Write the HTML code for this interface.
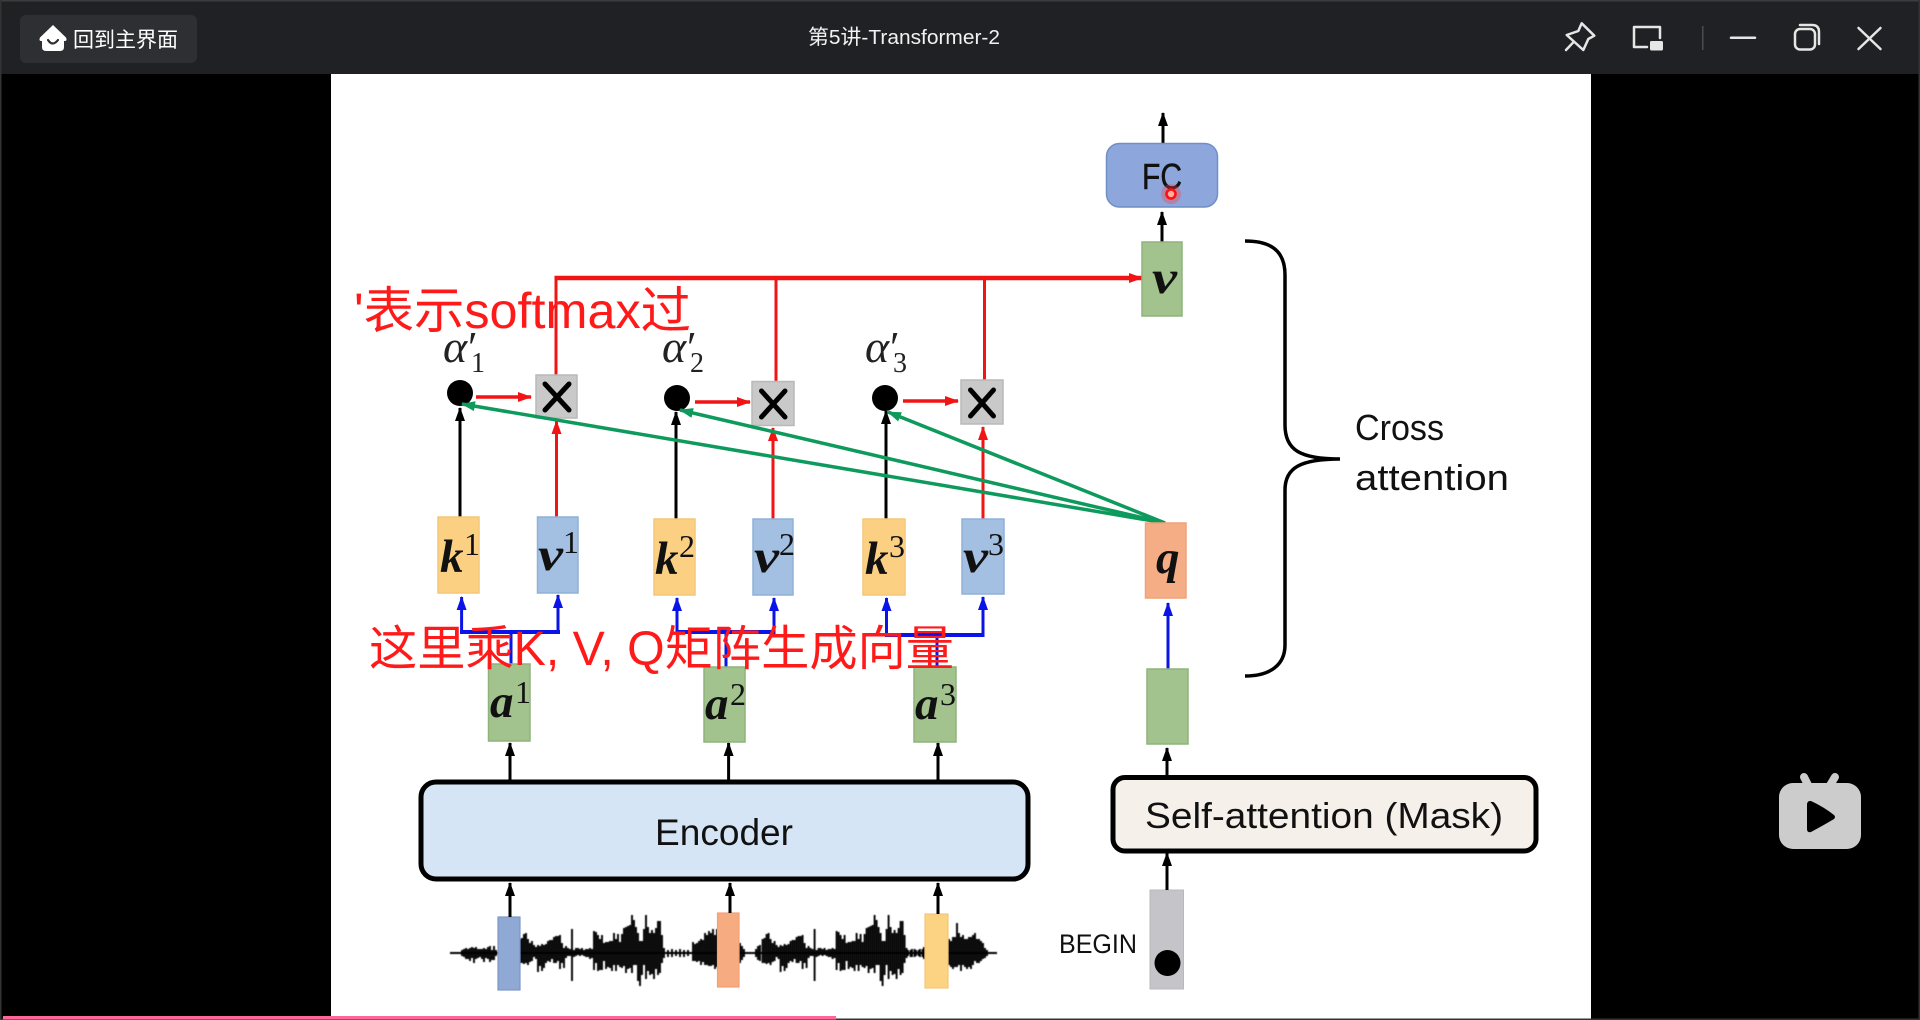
<!DOCTYPE html>
<html><head><meta charset="utf-8"><title>第5讲-Transformer-2</title>
<style>
html,body{margin:0;padding:0;background:#000;width:1920px;height:1020px;overflow:hidden}
svg{display:block}
.sans{font-family:"Liberation Sans","Noto Sans CJK SC",sans-serif}
.m{font-family:"Liberation Sans",sans-serif;fill:#111}
.b{font-family:"Liberation Serif",serif;font-style:italic;font-weight:bold;font-size:47px;fill:#111}
.s{font-family:"Liberation Serif",serif;font-size:32px;fill:#111}
.al{font-family:"Liberation Serif",serif;font-style:italic;font-size:46px;fill:#222}
.as{font-family:"Liberation Serif",serif;font-size:28px;fill:#222}
.pr{font-family:"Liberation Serif",serif;font-size:44px;fill:#222}
.y{fill:#fbd083;stroke:#f4c778;stroke-width:1.5}
.bl{fill:#a3bfe2;stroke:#8fb0d8;stroke-width:1.5}
.g{fill:#a2c38d;stroke:#8fb37c;stroke-width:1.5}
.o{fill:#f5ad85;stroke:#f0a27a;stroke-width:1.5}
.x{fill:#c9c9c9;stroke:#b9b9b9;stroke-width:1.5}
</style></head>
<body>
<svg xmlns="http://www.w3.org/2000/svg" width="1920" height="1020" viewBox="0 0 1920 1020">
<defs>
<marker id="ak" markerUnits="userSpaceOnUse" markerWidth="16" markerHeight="12" refX="13" refY="5" orient="auto"><path d="M0 0L14 5L0 10z" fill="#000"/></marker>
<marker id="ar" markerUnits="userSpaceOnUse" markerWidth="16" markerHeight="12" refX="13" refY="5" orient="auto"><path d="M0 0L14 5L0 10z" fill="#f01414"/></marker>
<marker id="ab" markerUnits="userSpaceOnUse" markerWidth="16" markerHeight="12" refX="13" refY="5" orient="auto"><path d="M0 0L14 5L0 10z" fill="#0a14e6"/></marker>
<marker id="ag" markerUnits="userSpaceOnUse" markerWidth="16" markerHeight="12" refX="13" refY="5" orient="auto"><path d="M0 0L14 5L0 10z" fill="#0e9a5c"/></marker>
</defs>

<rect width="1920" height="1020" fill="#000"/>
<rect x="331" y="74" width="1260" height="946" fill="#fff"/>

<!-- title bar -->
<rect width="1920" height="74" fill="#202124"/>
<rect x="0" y="0" width="1920" height="1.5" fill="#3c3c3c"/>
<rect x="0" y="0" width="1.5" height="1020" fill="#333"/>
<rect x="1918.5" y="0" width="1.5" height="1020" fill="#333"/>
<rect x="20" y="15" width="177" height="48" rx="6" fill="#2e2f33"/>
<path d="M53 25L66 37.5Q67.5 41 65 41H64V47Q64 51 60 51H46Q42 51 42 47V41H41Q38.5 41 40 37.5Z" fill="#fff"/>
<path d="M48 40Q52.5 47 58 40" fill="none" stroke="#2e2f33" stroke-width="2.2" stroke-linecap="round"/>
<text x="73" y="47" class="sans" font-size="21" fill="#fff">回到主界面</text>
<text x="808" y="44" class="sans" font-size="20.5" fill="#f2f2f2" textLength="192" lengthAdjust="spacingAndGlyphs">第5讲-Transformer-2</text>
<g fill="none" stroke="#e6e6e6" stroke-width="2.5" stroke-linejoin="round" stroke-linecap="round">
<path d="M1581.7 23.3L1594.3 35.7L1588.3 39L1583.3 50L1566.7 35L1578.3 31Z"/>
<path d="M1573.3 42.3L1566 50"/>
<path d="M1660 38V27H1634V47H1647"/>
<path d="M1731 37.7H1755"/>
<rect x="1795" y="29" width="20" height="20.5" rx="5"/>
<path d="M1800 25H1812Q1819 25 1819 32V44"/>
<path d="M1858.5 28L1880.5 49M1880.5 28L1858.5 49"/>
</g>
<rect x="1650" y="41" width="13" height="9.5" rx="1.5" fill="#e6e6e6"/>
<rect x="1702" y="26" width="1.5" height="24" fill="#4a4b4f"/>

<!-- waveform -->
<g fill="none" stroke="#000" stroke-width="1.9" style="filter:blur(.4px)">
<path d="M450 953H997" stroke-width="2"/>
<path id="w1" d="M462 953v-3 6M464 953v-4 8M466 953v-5 11M468 953v-4 10M470 953v-5 13M472 953v-6 11M474 953v-5 15M476 953v-6 12M478 953v-4 9M480 953v-4 8M482 953v-4 10M484 953v-5 14M486 953v-4 9M488 953v-6 12M490 953v-7 16M492 953v-3 10M494 953v-7 14M496 953v-3 6"/>
<path id="w2" d="M520 953v-14 24M522 953v-15 25M524 953v-19 30M526 953v-20 30M528 953v-14 26M530 953v-10 19M532 953v-12 20M534 953v-8 12M536 953v-6 12M538 953v-8 27M540 953v-7 20M542 953v-9 27M544 953v-8 23M546 953v-9 19M548 953v-12 20M550 953v-13 22M552 953v-13 19M554 953v-16 26M556 953v-17 27M558 953v-17 25M560 953v-18 34M562 953v-10 20M564 953v-5 20M566 953v-7 12M568 953v-5 8M570 953v-4 7M572 953v-24 52M574 953v-3 7M576 953v-5 8M578 953v-5 7M580 953v-4 7M582 953v-5 7M584 953v-3 6M586 953v-4 8M588 953v-4 8M590 953v-5 11M592 953v-4 9M594 953v-22 39M596 953v-21 31M598 953v-18 36M600 953v-14 31M602 953v-18 35M604 953v-10 18M606 953v-11 27M608 953v-11 25M610 953v-12 27M612 953v-12 30M614 953v-20 32M616 953v-14 32M618 953v-19 31M620 953v-11 25M622 953v-19 34M624 953v-25 38M626 953v-26 46M628 953v-27 43M630 953v-28 43M632 953v-38 58M634 953v-33 45M636 953v-26 38M638 953v-20 48M640 953v-12 45M642 953v-12 34M644 953v-24 36M646 953v-38 64M648 953v-26 44M650 953v-20 42M652 953v-23 44M654 953v-20 46M656 953v-25 41M658 953v-32 54M660 953v-32 52M662 953v-18 28M664 953v-5 10M668 953v-3 7M672 953v-4 8M676 953v-3 6M680 953v-4 8M684 953v-3 7M688 953v-3 6"/>
<path d="M693 953v-11 19M695 953v-9 17M697 953v-10 19M699 953v-12 20M701 953v-14 26M703 953v-13 22M705 953v-20 32M707 953v-18 30M709 953v-22 35M711 953v-20 33M713 953v-24 36M715 953v-18 34M717 953v-24 38"/>
<path d="M740 953v-10 20M742 953v-7 14M744 953v-4 8"/>
<path d="M756 953v-4 8M758 953v-7 14M760 953v-8 16"/>
<use href="#w2" transform="translate(242.6 0)"/>
<path d="M908 953v-3 6M912 953v-4 8M916 953v-3 6M920 953v-4 8M924 953v-6 12"/>
<path d="M949 953v-14 26M951 953v-12 26M953 953v-16 32M955 953v-16 30M957 953v-30 44M959 953v-20 32M961 953v-16 34M963 953v-18 30M965 953v-14 28M967 953v-14 30M969 953v-16 30M971 953v-16 32M973 953v-18 30M975 953v-20 28M977 953v-14 24M979 953v-14 24M981 953v-12 20M983 953v-10 16M985 953v-5 10M987 953v-3 6"/>
</g>

<!-- input blocks -->
<rect x="498" y="917" width="22" height="73" fill="#8fa8d4" stroke="#7d98c8" stroke-width="1.2"/>
<rect x="717.5" y="913" width="21.5" height="74" fill="#f6ac80" stroke="#f2a074" stroke-width="1.2"/>
<rect x="925" y="914" width="23" height="74" fill="#fbd383" stroke="#f4c778" stroke-width="1.2"/>
<rect x="1150" y="890" width="33.5" height="99" fill="#c5c5c9" stroke="#b9b9bd" stroke-width="1"/>
<circle cx="1167.5" cy="963" r="13" fill="#000"/>

<!-- encoder / decoder boxes -->
<rect x="421" y="782" width="607" height="97" rx="15" fill="#d5e5f5" stroke="#000" stroke-width="5"/>
<text x="655" y="845" class="m" font-size="37" textLength="138" lengthAdjust="spacingAndGlyphs">Encoder</text>
<rect x="1113" y="777.5" width="423" height="73.5" rx="12" fill="#f6f0ea" stroke="#000" stroke-width="5"/>
<text x="1145" y="828" class="m" font-size="36" textLength="358" lengthAdjust="spacingAndGlyphs">Self-attention (Mask)</text>
<text x="1059" y="953" class="m" font-size="27" textLength="78" lengthAdjust="spacingAndGlyphs">BEGIN</text>

<!-- black arrows -->
<g fill="none" stroke="#000" stroke-width="3">
<path d="M510 782V743" marker-end="url(#ak)"/>
<path d="M728.6 782V743" marker-end="url(#ak)"/>
<path d="M938 782V743" marker-end="url(#ak)"/>
<path d="M510 917V883" marker-end="url(#ak)"/>
<path d="M730 913V883" marker-end="url(#ak)"/>
<path d="M938 914V883" marker-end="url(#ak)"/>
<path d="M1167 776V748" marker-end="url(#ak)"/>
<path d="M1167 890V853" marker-end="url(#ak)"/>
<path d="M1163 143V113" marker-end="url(#ak)"/>
<path d="M1162 242V212" marker-end="url(#ak)"/>
<path d="M460 517V408" marker-end="url(#ak)"/>
<path d="M676 519V412" marker-end="url(#ak)"/>
<path d="M886 519V411" marker-end="url(#ak)"/>
</g>

<!-- red lines -->
<g fill="none" stroke="#f01414" stroke-width="3">
<path d="M556 375V278" />
<path d="M776 382V278"/>
<path d="M984.5 380V278"/>
<path d="M554.5 278H1142" stroke-width="4.5" marker-end="url(#ar)"/>
<path d="M476 397H531" stroke-width="3.5" marker-end="url(#ar)"/>
<path d="M695 402H750" stroke-width="3.5" marker-end="url(#ar)"/>
<path d="M903 401H958" stroke-width="3.5" marker-end="url(#ar)"/>
<path d="M556.5 517V421" marker-end="url(#ar)"/>
<path d="M773 519V428" marker-end="url(#ar)"/>
<path d="M983 519V427" marker-end="url(#ar)"/>
</g>

<!-- X boxes -->
<rect x="536" y="375" width="41" height="43" class="x"/>
<rect x="752" y="381.5" width="42" height="44" class="x"/>
<rect x="961" y="380" width="42" height="44" class="x"/>
<g stroke="#000" stroke-width="5" stroke-linecap="round">
<path d="M545 384L569 410M569 384L545 410"/>
<path d="M761.5 391L785 417M785 391L761.5 417"/>
<path d="M970.5 390L993.5 416M993.5 390L970.5 416"/>
</g>

<!-- alpha dots -->
<circle cx="460" cy="393" r="13" fill="#000"/>
<circle cx="677" cy="398" r="13" fill="#000"/>
<circle cx="885" cy="398" r="13" fill="#000"/>

<!-- alpha labels -->
<text x="443" y="362" class="al">α</text><text x="468" y="362" class="pr">′</text><text x="471" y="372" class="as">1</text>
<text x="662" y="362" class="al">α</text><text x="687" y="362" class="pr">′</text><text x="690" y="372" class="as">2</text>
<text x="865" y="362" class="al">α</text><text x="890" y="362" class="pr">′</text><text x="893" y="372" class="as">3</text>

<!-- green lines -->
<g fill="none" stroke="#0e9a5c" stroke-width="3.5">
<path d="M1165 523L462 404" marker-end="url(#ag)"/>
<path d="M1165 523L680 410" marker-end="url(#ag)"/>
<path d="M1165 523L888 412" marker-end="url(#ag)"/>
</g>

<!-- blue lines -->
<g fill="none" stroke="#0a14e6" stroke-width="3">
<path d="M511 664V632"/>
<path d="M726 667V632"/>
<path d="M937 667V635"/>
<path d="M460 632H560" stroke-width="4"/>
<path d="M675.5 632H775.5" stroke-width="4"/>
<path d="M885 635H984.5" stroke-width="4"/>
<path d="M461.6 632V597" marker-end="url(#ab)"/>
<path d="M558 632V595" marker-end="url(#ab)"/>
<path d="M677 632V598" marker-end="url(#ab)"/>
<path d="M774 632V598" marker-end="url(#ab)"/>
<path d="M886.5 635V598" marker-end="url(#ab)"/>
<path d="M983 635V597" marker-end="url(#ab)"/>
<path d="M1168 669V603" marker-end="url(#ab)"/>
</g>

<!-- k v q a boxes -->
<rect x="438" y="517" width="41" height="76" class="y"/>
<rect x="537.5" y="517" width="40.5" height="76" class="bl"/>
<rect x="654" y="519" width="41" height="76" class="y"/>
<rect x="753" y="519" width="40" height="76" class="bl"/>
<rect x="863" y="519" width="42" height="76" class="y"/>
<rect x="962" y="519" width="42" height="75" class="bl"/>
<rect x="1145.5" y="523" width="40.5" height="75" class="o"/>
<rect x="488.5" y="664" width="41.5" height="77" class="g"/>
<rect x="704" y="667" width="41" height="75" class="g"/>
<rect x="914" y="667" width="42" height="75" class="g"/>
<rect x="1147" y="669" width="41" height="75" class="g"/>
<rect x="1142" y="242" width="40" height="74" class="g"/>

<text x="440" y="572" class="b">k</text><text x="464" y="555" class="s">1</text>
<text x="538" y="570" class="b" textLength="25" lengthAdjust="spacingAndGlyphs">v</text><text x="563" y="553" class="s">1</text>
<text x="655" y="574" class="b">k</text><text x="679" y="557" class="s">2</text>
<text x="754" y="572" class="b" textLength="25" lengthAdjust="spacingAndGlyphs">v</text><text x="779" y="555" class="s">2</text>
<text x="865" y="574" class="b">k</text><text x="889" y="557" class="s">3</text>
<text x="963" y="572" class="b" textLength="25" lengthAdjust="spacingAndGlyphs">v</text><text x="988" y="555" class="s">3</text>
<text x="1156" y="573" class="b">q</text>
<text x="490" y="717" class="b">a</text><text x="515" y="703" class="s">1</text>
<text x="705" y="719" class="b">a</text><text x="730" y="705" class="s">2</text>
<text x="915" y="719" class="b">a</text><text x="940" y="705" class="s">3</text>
<text x="1152" y="293" class="b" textLength="25" lengthAdjust="spacingAndGlyphs">v</text>

<!-- FC -->
<rect x="1106.5" y="143.5" width="111" height="63.5" rx="13" fill="#8da7dc" stroke="#6f8fc8" stroke-width="1.5"/>
<text x="1142" y="189" class="m" font-size="36" textLength="40" lengthAdjust="spacingAndGlyphs" stroke="#111" stroke-width=".5">FC</text>
<circle cx="1171" cy="194" r="10" fill="#ff4040" opacity=".35"/>
<circle cx="1171" cy="194" r="4.5" fill="#ffb0a0" stroke="#ff1010" stroke-width="2.6"/>

<!-- brace -->
<path d="M1245 241C1270 241 1285 250 1285 275V425C1285 450 1300 459 1340 459C1300 459 1285 468 1285 490V645C1285 665 1270 676 1245 676" fill="none" stroke="#000" stroke-width="3.5"/>
<text x="1355" y="440" class="m" font-size="36" textLength="89" lengthAdjust="spacingAndGlyphs">Cross</text>
<text x="1355" y="490" class="m" font-size="36" textLength="154" lengthAdjust="spacingAndGlyphs">attention</text>

<!-- red annotations -->
<text x="354" y="328" class="sans" font-size="50" fill="#ff1a1a" textLength="337" lengthAdjust="spacingAndGlyphs">'表示softmax过</text>
<text x="369" y="665" class="sans" font-size="48" fill="#ff1a1a" textLength="585" lengthAdjust="spacingAndGlyphs">这里乘K, V, Q矩阵生成向量</text>

<!-- bilibili -->
<rect x="1779" y="783" width="82" height="66" rx="14" fill="#ccc"/>
<path d="M1804 777L1809 787M1835 777L1829 787" stroke="#ccc" stroke-width="8" stroke-linecap="round"/>
<path d="M1810 801Q1807 801 1807 805V829Q1807 833 1811 832Q1824 825 1834 819Q1836 817 1834 815Q1824 807 1811 801Z" fill="#000"/>

<!-- progress -->
<rect x="0" y="1018.5" width="1920" height="1.5" fill="#333"/>
<rect x="3" y="1016" width="833" height="3.5" fill="#ff6699"/>
</svg>
</body></html>
